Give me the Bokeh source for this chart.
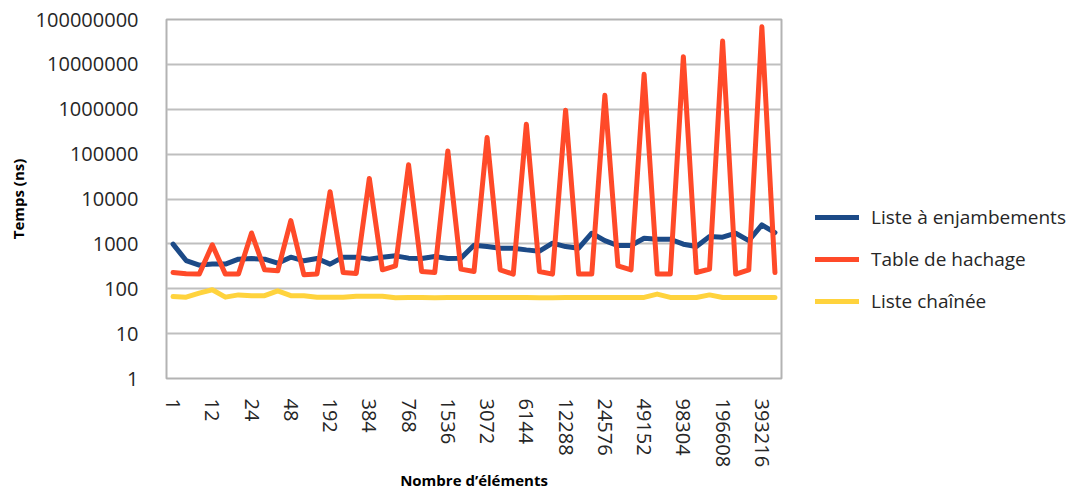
from bokeh.plotting import figure
from bokeh.layouts import row
from bokeh.models import (FixedTicker, CustomJSTickFormatter, Legend, LegendItem,
                          Range1d)
from bokeh.embed import file_html
from bokeh.resources import INLINE

# ---- data -------------------------------------------------------------
tick_labels = ["1", "12", "24", "48", "192", "384", "768", "1536", "3072",
               "6144", "12288", "24576", "49152", "98304", "196608", "393216"]
label_step = 3  # one label every third measurement

skip_list = [985, 425, 336, 354, 354, 457, 471, 457, 372, 506, 419, 471, 354,
             506, 506, 457, 506, 541, 481, 471, 523, 471, 481, 930, 871, 802,
             802, 735, 687, 1036, 871, 802, 1727, 1185, 918, 918, 1337, 1270,
             1270, 985, 871, 1454, 1410, 1727, 1185, 2643, 1785]
hash_table = [230, 215, 212, 950, 212, 212, 1750, 264, 251, 3300, 205, 214,
              14500, 230, 220, 28700, 264, 324, 58000, 243, 230, 118000, 274,
              243, 234000, 264, 212, 463000, 243, 212, 950000, 212, 212,
              2040000, 324, 264, 6000000, 212, 212, 14800000, 230, 274,
              33000000, 212, 264, 68600000, 230]
linked_list = [67, 65, 80, 95, 65, 73, 70, 70, 90, 70, 70, 65, 65, 65, 68, 68,
               68, 63, 64, 64, 63, 64, 64, 64, 64, 64, 64, 64, 63, 63, 64, 64,
               64, 64, 64, 64, 64, 76, 64, 64, 64, 73, 64, 64, 64, 64, 64]

series_names = ["Liste à enjambements", "Table de hachage", "Liste chaînée"]
series_colors = ["#1c4a87", "#ff4a29", "#ffd33d"]
y_ticks = [1, 10, 100, 1000, 10000, 100000, 1000000, 10000000, 100000000]

x_title = "Nombre d\u2019éléments"
y_title = "Temps (ns)"

# ---- main chart ---------------------------------------------------------
n = len(hash_table)
xs = list(range(n))

p = figure(width=790, height=493, output_backend="svg", toolbar_location=None,
           y_axis_type="log",
           x_range=Range1d(-0.5, n - 0.5), y_range=Range1d(1, 1e8),
           min_border_left=166, min_border_top=19, min_border_right=9,
           min_border_bottom=114, background_fill_color="white",
           border_fill_color="white")

for vals, col in zip([skip_list, hash_table, linked_list], series_colors):
    p.line(xs, vals, line_color=col, line_width=5, line_join="round",
           line_cap="round")

p.xgrid.visible = False
p.ygrid.grid_line_color = "#bfbfbf"
p.ygrid.grid_line_width = 2
p.outline_line_color = "#b3b3b3"
p.outline_line_width = 2

p.yaxis.ticker = FixedTicker(ticks=y_ticks, minor_ticks=[])
p.yaxis.formatter = CustomJSTickFormatter(code="return Math.round(tick).toString();")
p.yaxis.axis_label = y_title
p.yaxis.major_label_standoff = 22
p.yaxis.axis_label_standoff = 5

p.xaxis.ticker = FixedTicker(ticks=list(range(0, n, label_step)), minor_ticks=[])
p.xaxis.formatter = CustomJSTickFormatter(args=dict(labels=tick_labels, step=label_step),
                                          code="return labels[Math.round(tick/step)];")
p.xaxis.major_label_orientation = "vertical"
p.xaxis.axis_label = x_title
p.xaxis.major_label_standoff = 14
p.xaxis.axis_label_standoff = 0

for ax in (p.xaxis, p.yaxis):
    ax.axis_line_color = None
    ax.major_tick_line_color = None
    ax.minor_tick_line_color = None
    ax.major_label_text_font = "Open Sans"
    ax.major_label_text_font_size = "20px"
    ax.major_label_text_color = "#262626"
    ax.axis_label_text_font = "Open Sans"
    ax.axis_label_text_font_size = "15px"
    ax.axis_label_text_font_style = "bold"
    ax.axis_label_text_color = "#000000"

# ---- legend panel (to the right of the chart) ----------------------------
lg = figure(width=290, height=493, output_backend="svg", toolbar_location=None,
            x_range=Range1d(0, 1), y_range=Range1d(0, 1),
            x_axis_location=None, y_axis_location=None,
            min_border_left=0, min_border_right=0, min_border_top=0,
            min_border_bottom=0, background_fill_color="white",
            border_fill_color="white")
lg.grid.visible = False
lg.outline_line_color = None

nan = float("nan")
legend_renderers = [lg.line([nan], [nan], line_color=col, line_width=5, line_cap="round")
                    for col in series_colors]
legend = Legend(items=[LegendItem(label=nm, renderers=[r])
                       for nm, r in zip(series_names, legend_renderers)],
                location=(25, 64), orientation="vertical",
                glyph_width=44, glyph_height=24, label_height=24,
                label_standoff=12, spacing=16, padding=0, margin=0,
                border_line_color=None, background_fill_alpha=0,
                label_text_font="Open Sans", label_text_font_size="19px",
                label_text_color="#262626")
lg.add_layout(legend, "center")

layout = row(p, lg)
open("out.html", "w").write(file_html(layout, INLINE))
